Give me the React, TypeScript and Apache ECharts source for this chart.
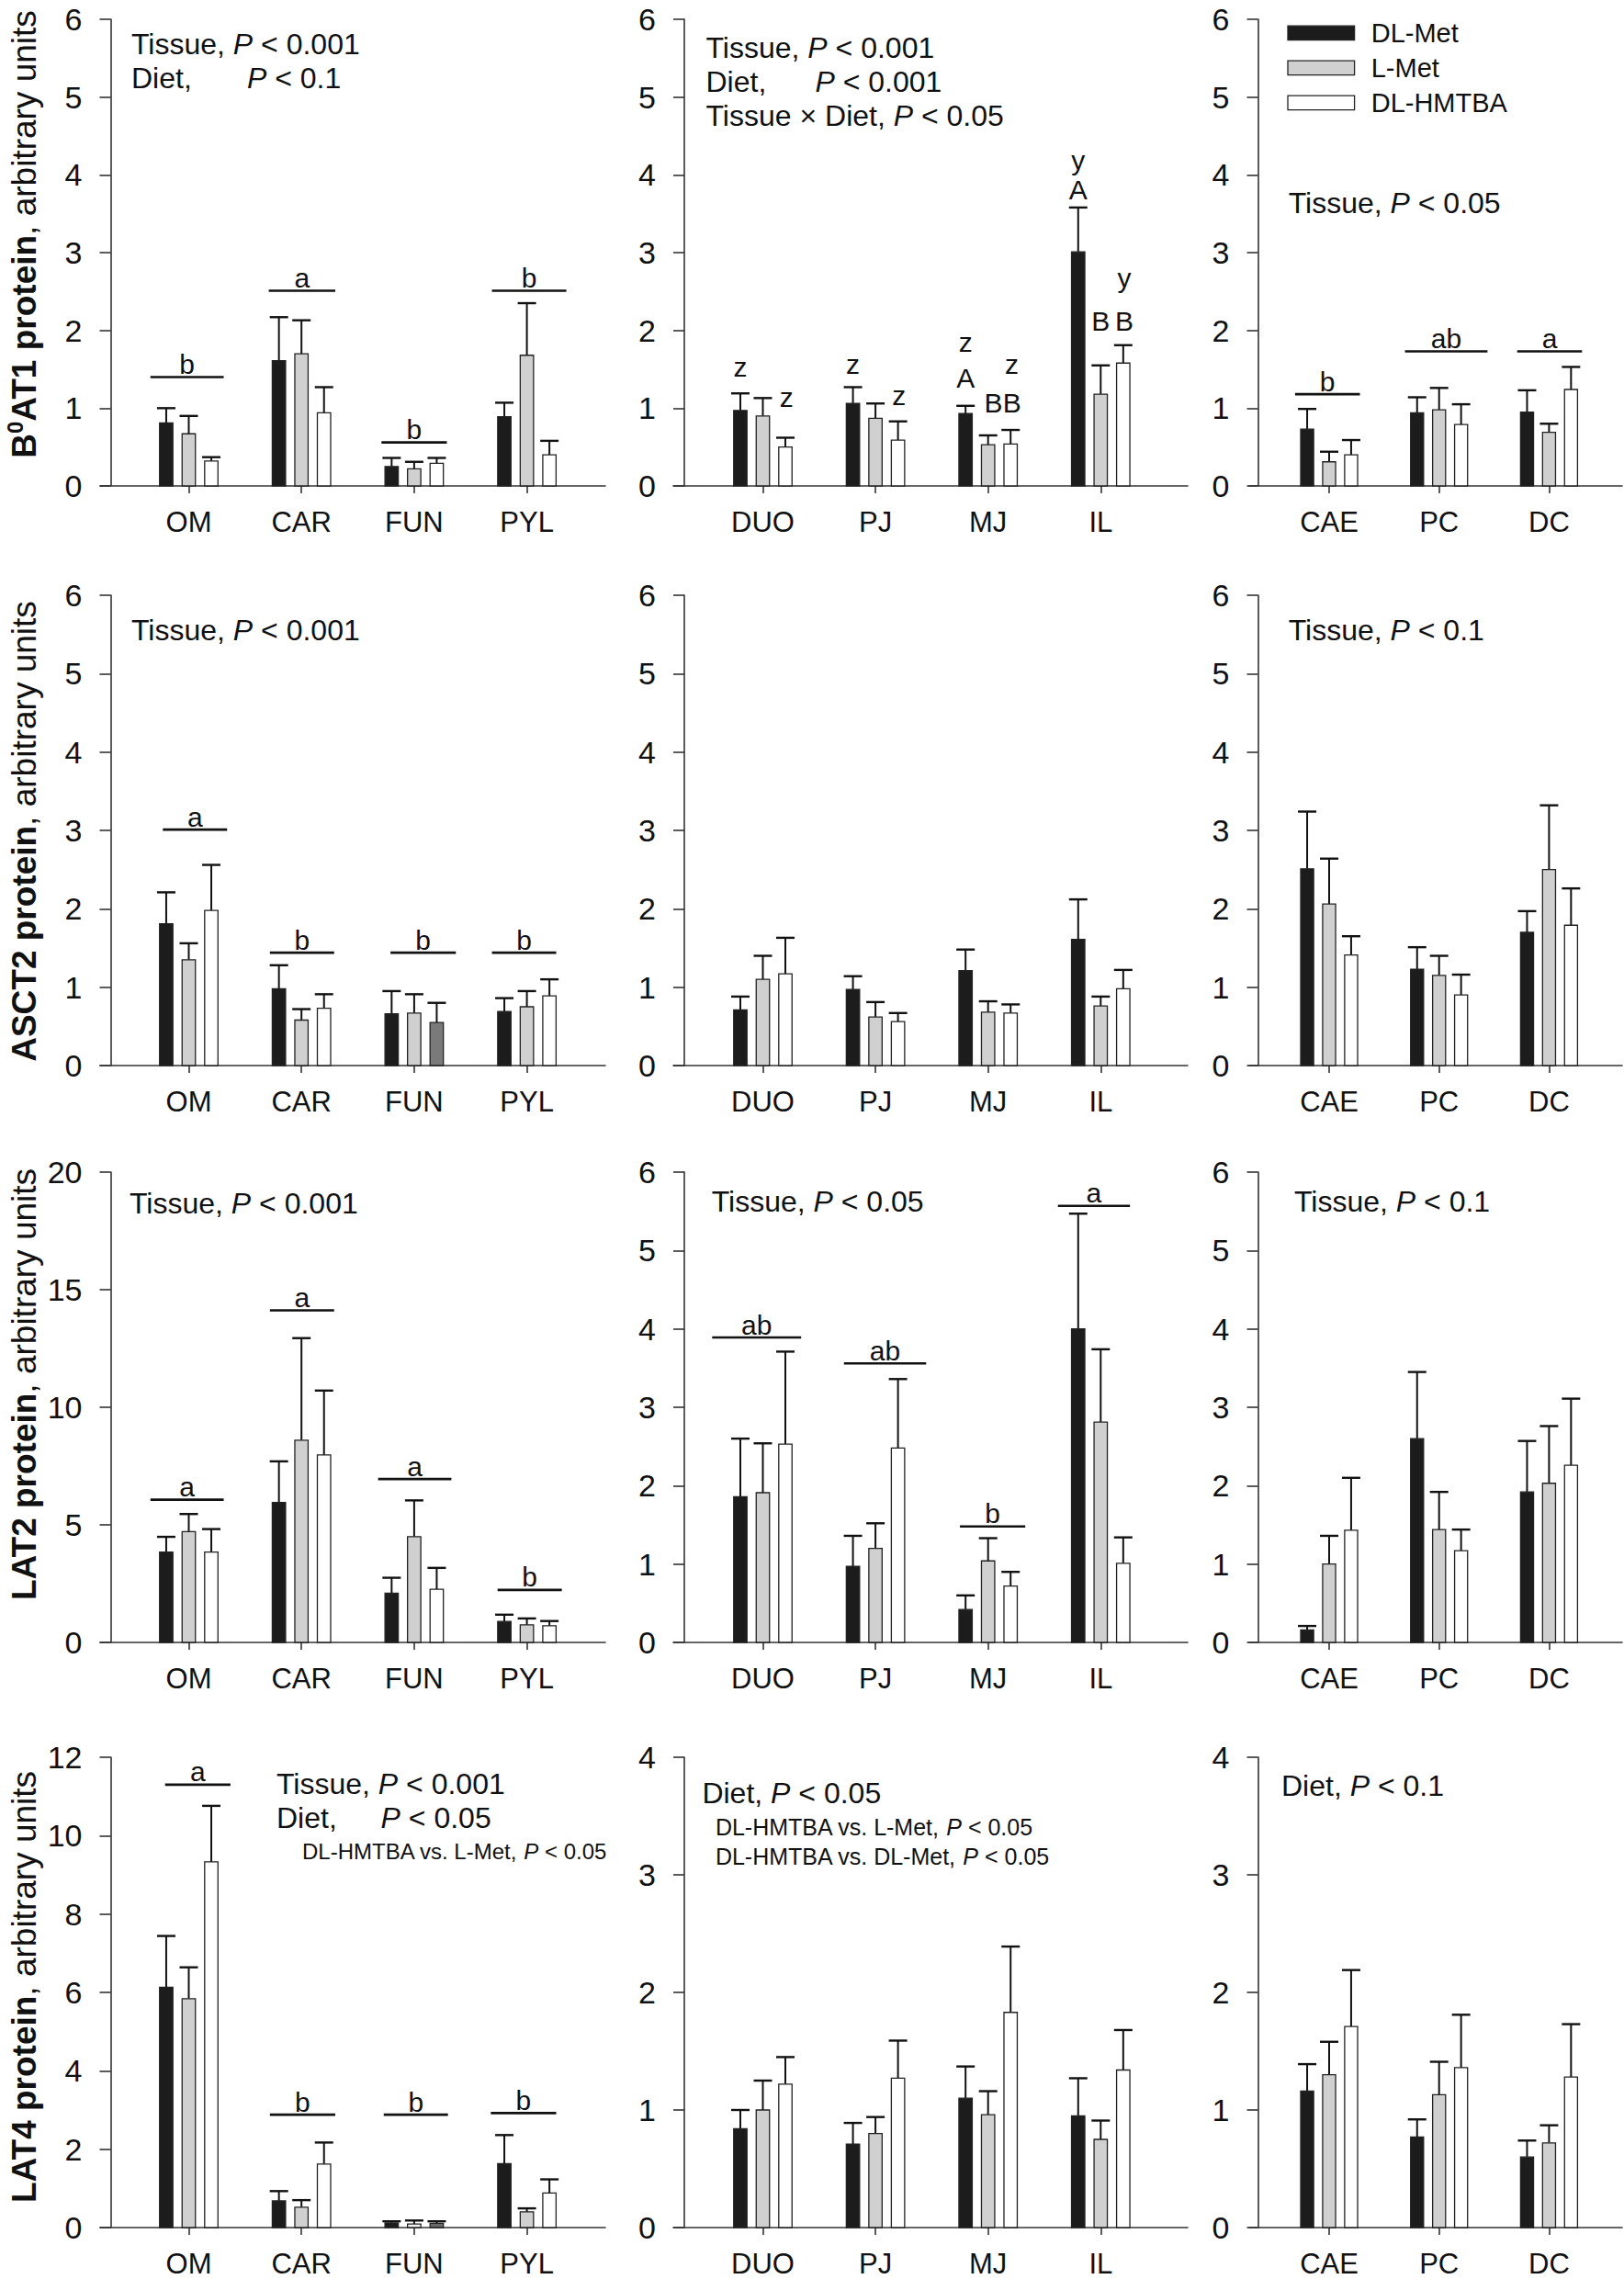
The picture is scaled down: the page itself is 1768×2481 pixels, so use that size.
import React, { useEffect, useRef } from 'react';
import * as echarts from 'echarts';

const FONT = '"Liberation Sans", Arial, Helvetica, sans-serif';

// ---------------- categories ----------------
const stomachCats = ['OM', 'CAR', 'FUN', 'PYL'];
const smallCats = ['DUO', 'PJ', 'MJ', 'IL'];
const largeCats = ['CAE', 'PC', 'DC'];
const diets = ['DL-Met', 'L-Met', 'DL-HMTBA'];

// ---------------- values: [diet][category] ----------------
const b0at1StomachMean = [[0.81, 1.61, 0.25, 0.89], [0.67, 1.70, 0.22, 1.68], [0.32, 0.94, 0.29, 0.40]];
const b0at1StomachSE = [[0.19, 0.56, 0.11, 0.18], [0.23, 0.43, 0.09, 0.67], [0.05, 0.33, 0.07, 0.18]];
const b0at1SmallMean = [[0.97, 1.06, 0.93, 3.01], [0.90, 0.87, 0.53, 1.18], [0.50, 0.59, 0.54, 1.58]];
const b0at1SmallSE = [[0.22, 0.21, 0.10, 0.57], [0.23, 0.19, 0.12, 0.37], [0.12, 0.24, 0.18, 0.23]];
const b0at1LargeMean = [[0.73, 0.94, 0.95], [0.31, 0.98, 0.69], [0.40, 0.79, 1.24]];
const b0at1LargeSE = [[0.26, 0.20, 0.28], [0.13, 0.28, 0.11], [0.19, 0.26, 0.29]];

const asct2StomachMean = [[1.81, 0.98, 0.66, 0.69], [1.35, 0.58, 0.67, 0.75], [1.98, 0.73, 0.55, 0.89]];
const asct2StomachSE = [[0.40, 0.30, 0.29, 0.17], [0.21, 0.14, 0.24, 0.20], [0.58, 0.18, 0.25, 0.21]];
const asct2SmallMean = [[0.71, 0.97, 1.21, 1.61], [1.10, 0.62, 0.68, 0.76], [1.17, 0.56, 0.67, 0.98]];
const asct2SmallSE = [[0.17, 0.17, 0.27, 0.51], [0.30, 0.19, 0.14, 0.12], [0.46, 0.11, 0.11, 0.24]];
const asct2LargeMean = [[2.51, 1.23, 1.70], [2.06, 1.15, 2.50], [1.41, 0.90, 1.79]];
const asct2LargeSE = [[0.73, 0.28, 0.27], [0.58, 0.25, 0.82], [0.24, 0.26, 0.47]];

const lat2StomachMean = [[3.84, 5.95, 2.09, 0.89], [4.71, 8.60, 4.50, 0.75], [3.84, 7.97, 2.26, 0.71]];
const lat2StomachSE = [[0.65, 1.75, 0.66, 0.29], [0.75, 4.34, 1.54, 0.27], [0.98, 2.74, 0.91, 0.20]];
const lat2SmallMean = [[1.86, 0.97, 0.42, 4.00], [1.91, 1.20, 1.04, 2.81], [2.53, 2.48, 0.72, 1.01]];
const lat2SmallSE = [[0.74, 0.39, 0.18, 1.47], [0.63, 0.32, 0.29, 0.93], [1.18, 0.88, 0.18, 0.33]];
const lat2LargeMean = [[0.16, 2.60, 1.92], [1.00, 1.44, 2.03], [1.43, 1.17, 2.26]];
const lat2LargeSE = [[0.05, 0.85, 0.65], [0.36, 0.48, 0.73], [0.67, 0.27, 0.85]];

const lat4StomachMean = [[6.13, 0.68, 0.12, 1.63], [5.84, 0.52, 0.09, 0.40], [9.33, 1.62, 0.11, 0.88]];
const lat4StomachSE = [[1.31, 0.25, 0.04, 0.73], [0.80, 0.18, 0.09, 0.09], [1.43, 0.55, 0.05, 0.35]];
const lat4SmallMean = [[0.84, 0.71, 1.10, 0.95], [1.00, 0.80, 0.96, 0.75], [1.22, 1.27, 1.83, 1.34]];
const lat4SmallSE = [[0.16, 0.18, 0.27, 0.32], [0.25, 0.14, 0.20, 0.16], [0.23, 0.32, 0.56, 0.34]];
const lat4LargeMean = [[1.16, 0.77, 0.60], [1.30, 1.13, 0.72], [1.71, 1.36, 1.28]];
const lat4LargeSE = [[0.23, 0.15, 0.14], [0.28, 0.28, 0.15], [0.48, 0.45, 0.45]];

// ---------------- significance groups: [cat, y, letter, lineFrom, lineTo] ----------------
const b0at1StomachGroups = [[0, 1.40, 'b', -0.34, 0.31], [1, 2.51, 'a', -0.29, 0.30], [2, 0.56, 'b', -0.29, 0.29], [3, 2.51, 'b', -0.31, 0.35]];
const b0at1LargeGroups = [[0, 1.18, 'b', -0.31, 0.28], [1, 1.73, 'ab', -0.31, 0.44], [2, 1.73, 'a', -0.29, 0.30]];
const asct2StomachGroups = [[0, 3.01, 'a', -0.23, 0.34], [1, 1.44, 'b', -0.28, 0.29], [2, 1.44, 'b', -0.21, 0.37], [3, 1.44, 'b', -0.31, 0.26]];
const lat2StomachGroups = [[0, 6.07, 'a', -0.34, 0.31], [1, 14.12, 'a', -0.28, 0.29], [2, 6.95, 'a', -0.32, 0.33], [3, 2.23, 'b', -0.26, 0.31]];
const lat2SmallGroups = [[0, 3.89, 'ab', -0.45, 0.34], [1, 3.56, 'ab', -0.28, 0.45], [2, 1.48, 'b', -0.25, 0.33], [3, 5.57, 'a', -0.38, 0.26]];
const lat4StomachGroups = [[0, 11.30, 'a', -0.21, 0.37], [1, 2.88, 'b', -0.28, 0.30], [2, 2.88, 'b', -0.27, 0.30], [3, 2.92, 'b', -0.32, 0.26]];

// ---------------- letters over single bars: [cat, dx, y, letter] ----------------
const b0at1SmallLetters = [
  [0, -0.2, 1.53, 'z'], [0, 0.21, 1.14, 'z'],
  [1, -0.2, 1.57, 'z'], [1, 0.21, 1.16, 'z'],
  [2, -0.2, 1.85, 'z'], [2, -0.2, 1.39, 'A'], [2, 0.13, 1.07, 'BB'], [2, 0.21, 1.57, 'z'],
  [3, -0.2, 4.19, 'y'], [3, -0.2, 3.81, 'A'], [3, 0.0, 2.12, 'B'], [3, 0.21, 2.12, 'B'], [3, 0.21, 2.67, 'y'],
];

// ---------------- per-bar fill exceptions: [diet, cat, colour] ----------------
const asct2StomachFillExceptions = [[2, 2, '#7a7a7a']];
const lat4StomachFillExceptions = [[1, 2, '#f4f4f4'], [2, 2, '#6a6a6a']];

// ---------------- layout ----------------
const COLS = [
  { axisX: 120.5, xStart: 109, xEnd: 659, c0: 205.5, step: 122.7 },
  { axisX: 745, xStart: 733, xEnd: 1293, c0: 830.5, step: 122.6 },
  { axisX: 1369.5, xStart: 1360, xEnd: 1766, c0: 1447, step: 119.7 },
];
const ROW_TOPS = [21, 648, 1276, 1913];
const ROW_HEIGHTS = [508, 512, 512, 512];
const BAR_FILL = ['#1c1c1c', '#d0d0d0', '#ffffff'];
const BAR_OFFSET = [-0.2, 0, 0.2];
const BAR_W = 0.118;
const INK = '#111';
const AXIS = '#333';

const panels = [
  { row: 0, col: 0, cats: stomachCats, mean: b0at1StomachMean, se: b0at1StomachSE, yMax: 6, yStep: 1, groups: b0at1StomachGroups },
  { row: 0, col: 1, cats: smallCats, mean: b0at1SmallMean, se: b0at1SmallSE, yMax: 6, yStep: 1, letters: b0at1SmallLetters },
  { row: 0, col: 2, cats: largeCats, mean: b0at1LargeMean, se: b0at1LargeSE, yMax: 6, yStep: 1, groups: b0at1LargeGroups },
  { row: 1, col: 0, cats: stomachCats, mean: asct2StomachMean, se: asct2StomachSE, yMax: 6, yStep: 1, groups: asct2StomachGroups, fills: asct2StomachFillExceptions },
  { row: 1, col: 1, cats: smallCats, mean: asct2SmallMean, se: asct2SmallSE, yMax: 6, yStep: 1 },
  { row: 1, col: 2, cats: largeCats, mean: asct2LargeMean, se: asct2LargeSE, yMax: 6, yStep: 1 },
  { row: 2, col: 0, cats: stomachCats, mean: lat2StomachMean, se: lat2StomachSE, yMax: 20, yStep: 5, groups: lat2StomachGroups },
  { row: 2, col: 1, cats: smallCats, mean: lat2SmallMean, se: lat2SmallSE, yMax: 6, yStep: 1, groups: lat2SmallGroups },
  { row: 2, col: 2, cats: largeCats, mean: lat2LargeMean, se: lat2LargeSE, yMax: 6, yStep: 1 },
  { row: 3, col: 0, cats: stomachCats, mean: lat4StomachMean, se: lat4StomachSE, yMax: 12, yStep: 2, groups: lat4StomachGroups, fills: lat4StomachFillExceptions },
  { row: 3, col: 1, cats: smallCats, mean: lat4SmallMean, se: lat4SmallSE, yMax: 4, yStep: 1 },
  { row: 3, col: 2, cats: largeCats, mean: lat4LargeMean, se: lat4LargeSE, yMax: 4, yStep: 1 },
];

const richBase = {
  n: { fontSize: 32, fontFamily: FONT, fill: INK },
  i: { fontSize: 32, fontFamily: FONT, fill: INK, fontStyle: 'italic' },
  sn: { fontSize: 25, fontFamily: FONT, fill: INK },
  si: { fontSize: 25, fontFamily: FONT, fill: INK, fontStyle: 'italic' },
  tn: { fontSize: 24, fontFamily: FONT, fill: INK },
  ti: { fontSize: 24, fontFamily: FONT, fill: INK, fontStyle: 'italic' },
};

function stat(x: number, y: number, text: string) {
  return {
    type: 'text', x, y, silent: true,
    style: { text, rich: richBase, align: 'left', verticalAlign: 'middle' },
  };
}

function yTitle(y: number, bold: string, sup?: string, boldRest?: string) {
  const b = { fontSize: 37, fontWeight: 'bold', fontFamily: FONT, fill: INK, lineHeight: 44 };
  const text = sup
    ? `{b|${bold}}{s|${sup}}{b|${boldRest}}{r|, arbitrary units}`
    : `{b|${bold}}{r|, arbitrary units}`;
  return {
    type: 'text', x: 26, y, rotation: Math.PI / 2, silent: true,
    style: {
      text, align: 'center', verticalAlign: 'middle',
      rich: {
        b,
        s: { fontSize: 24, fontWeight: 'bold', fontFamily: FONT, fill: INK, lineHeight: 44, verticalAlign: 'top', padding: [0, 0, 14, 0] },
        r: { fontSize: 37, fontFamily: FONT, fill: INK, lineHeight: 44 },
      },
    },
  };
}

function buildOption() {
  const grid: any[] = [];
  const xAxis: any[] = [];
  const yAxis: any[] = [];
  const series: any[] = [];

  panels.forEach((p: any, pi) => {
    const c = COLS[p.col];
    const top = ROW_TOPS[p.row];
    grid.push({ left: c.xStart, top, width: c.xEnd - c.xStart, height: ROW_HEIGHTS[p.row], containLabel: false });
    const catIdx = p.cats.map((_: string, i: number) => i);
    xAxis.push({
      type: 'value', gridIndex: pi,
      min: (c.xStart - c.c0) / c.step, max: (c.xEnd - c.c0) / c.step,
      axisLine: { show: true, onZero: false, lineStyle: { color: AXIS, width: 1.6 } },
      axisTick: { show: true, customValues: catIdx, length: 8, inside: false, lineStyle: { color: AXIS, width: 1.6 } },
      axisLabel: {
        show: true, customValues: catIdx, margin: 24, fontSize: 31, fontFamily: FONT, color: INK,
        formatter: (v: number) => {
          const i = Math.round(v);
          return Math.abs(v - i) < 1e-6 && p.cats[i] ? p.cats[i] : '';
        },
      },
      splitLine: { show: false },
    });
    yAxis.push({
      type: 'value', gridIndex: pi, min: 0, max: p.yMax, interval: p.yStep,
      offset: -(c.axisX - c.xStart),
      axisLine: { show: true, onZero: false, lineStyle: { color: AXIS, width: 1.6 } },
      axisTick: { show: true, length: 12, inside: false, lineStyle: { color: AXIS, width: 1.6 } },
      axisLabel: { margin: 31, fontSize: 34, lineHeight: 28, fontFamily: FONT, color: INK },
      splitLine: { show: false },
    });

    diets.forEach((dname, di) => {
      const data = p.cats.map((_: string, ci: number) => [ci, p.mean[di][ci], p.se[di][ci]]);
      const fills = p.fills || [];
      series.push({
        type: 'custom', name: dname, xAxisIndex: pi, yAxisIndex: pi,
        encode: { x: 0, y: 1 }, clip: false, silent: true,
        data,
        renderItem: (params: any, api: any) => {
          const ci = api.value(0);
          const v = api.value(1);
          const se = api.value(2);
          const xc = ci + BAR_OFFSET[di];
          const bl = api.coord([xc - BAR_W / 2, 0]);
          const tr = api.coord([xc + BAR_W / 2, v]);
          const mid = api.coord([xc, v]);
          const hi = api.coord([xc, v + se]);
          const ex = fills.find((f: any) => f[0] === di && f[1] === ci);
          const fill = ex ? ex[2] : BAR_FILL[di];
          return {
            type: 'group',
            children: [
              { type: 'line', shape: { x1: mid[0], y1: mid[1], x2: hi[0], y2: hi[1] }, style: { stroke: INK, lineWidth: 2 } },
              { type: 'line', shape: { x1: hi[0] - 10, y1: hi[1], x2: hi[0] + 10, y2: hi[1] }, style: { stroke: INK, lineWidth: 2.4 } },
              { type: 'rect', shape: { x: bl[0], y: tr[1], width: tr[0] - bl[0], height: bl[1] - tr[1] }, style: { fill, stroke: '#222', lineWidth: 1.3 } },
            ],
          };
        },
      });
    });

    if (p.groups) {
      const g = p.groups;
      series.push({
        type: 'custom', name: 'groups' + pi, xAxisIndex: pi, yAxisIndex: pi,
        encode: { x: 0, y: 1 }, clip: false, silent: true,
        data: g.map((r: any) => [r[0], r[1], r[3], r[4]]),
        renderItem: (params: any, api: any) => {
          const ci = api.value(0);
          const y = api.value(1);
          const a = api.coord([ci + api.value(2), y]);
          const b = api.coord([ci + api.value(3), y]);
          return {
            type: 'group',
            children: [
              { type: 'line', shape: { x1: a[0], y1: a[1], x2: b[0], y2: b[1] }, style: { stroke: INK, lineWidth: 2.6 } },
              {
                type: 'text', x: (a[0] + b[0]) / 2, y: a[1] - 14,
                style: { text: g[params.dataIndex][2], fontSize: 30, fontFamily: FONT, fill: INK, align: 'center', verticalAlign: 'middle' },
              },
            ],
          };
        },
      });
    }

    if (p.letters) {
      const L = p.letters;
      series.push({
        type: 'custom', name: 'letters' + pi, xAxisIndex: pi, yAxisIndex: pi,
        encode: { x: 0, y: 2 }, clip: false, silent: true,
        data: L.map((r: any) => [r[0], r[1], r[2]]),
        renderItem: (params: any, api: any) => {
          const pt = api.coord([api.value(0) + api.value(1), api.value(2)]);
          return {
            type: 'text', x: pt[0], y: pt[1],
            style: { text: L[params.dataIndex][3], fontSize: 30, fontFamily: FONT, fill: INK, align: 'center', verticalAlign: 'middle' },
          };
        },
      });
    }
  });

  const graphic: any[] = [
    // axis titles
    yTitle(255, 'B', '0', 'AT1 protein'),
    yTitle(905, 'ASCT2 protein'),
    yTitle(1507, 'LAT2 protein'),
    yTitle(2163, 'LAT4 protein'),
    // statistics
    stat(143, 47.5, '{n|Tissue, }{i|P}{n| < 0.001}'),
    stat(143, 84.5, '{n|Diet,}'),
    stat(269, 84.5, '{i|P}{n| < 0.1}'),
    stat(768.5, 51.5, '{n|Tissue, }{i|P}{n| < 0.001}'),
    stat(768.5, 88.5, '{n|Diet,}'),
    stat(887.5, 88.5, '{i|P}{n| < 0.001}'),
    stat(768.5, 125.5, '{n|Tissue × Diet, }{i|P}{n| < 0.05}'),
    stat(1402.7, 220.5, '{n|Tissue, }{i|P}{n| < 0.05}'),
    stat(143, 686.3, '{n|Tissue, }{i|P}{n| < 0.001}'),
    stat(1402.7, 686.3, '{n|Tissue, }{i|P}{n| < 0.1}'),
    stat(141, 1310.3, '{n|Tissue, }{i|P}{n| < 0.001}'),
    stat(774.7, 1308.3, '{n|Tissue, }{i|P}{n| < 0.05}'),
    stat(1409, 1308.3, '{n|Tissue, }{i|P}{n| < 0.1}'),
    stat(301, 1942.1, '{n|Tissue, }{i|P}{n| < 0.001}'),
    stat(301, 1979.1, '{n|Diet,}'),
    stat(414.6, 1979.1, '{i|P}{n| < 0.05}'),
    stat(329, 2015, '{tn|DL-HMTBA vs. L-Met, }{ti|P}{tn| < 0.05}'),
    stat(764.4, 1951.8, '{n|Diet, }{i|P}{n| < 0.05}'),
    stat(778.9, 1988.9, '{sn|DL-HMTBA vs. L-Met, }{si|P}{sn| < 0.05}'),
    stat(778.9, 2021.2, '{sn|DL-HMTBA vs. DL-Met, }{si|P}{sn| < 0.05}'),
    stat(1395, 1944, '{n|Diet, }{i|P}{n| < 0.1}'),
  ];

  // legend (top-right panel)
  const legY = [36, 74, 112];
  diets.forEach((d, i) => {
    graphic.push({
      type: 'rect', x: 1402, y: legY[i] - 7.8, silent: true,
      shape: { x: 0, y: 0, width: 72.6, height: 15.5 },
      style: { fill: BAR_FILL[i], stroke: '#222', lineWidth: 1.3 },
    });
    graphic.push({
      type: 'text', x: 1492.7, y: legY[i], silent: true,
      style: { text: d, fontSize: 29, fontFamily: FONT, fill: INK, align: 'left', verticalAlign: 'middle' },
    });
  });

  return {
    animation: false,
    backgroundColor: '#ffffff',
    textStyle: { fontFamily: FONT },
    grid, xAxis, yAxis, series, graphic,
  };
}

export default function App() {
  const ref = useRef<HTMLDivElement>(null);
  useEffect(() => {
    if (!ref.current) return;
    const chart = echarts.init(ref.current, undefined, { renderer: 'svg' });
    chart.setOption(buildOption() as any);
    return () => chart.dispose();
  }, []);
  return (
    <div
      ref={ref}
      style={{ position: 'absolute', left: 0, top: 0, width: 1768, height: 2481, background: '#fff' }}
    />
  );
}
